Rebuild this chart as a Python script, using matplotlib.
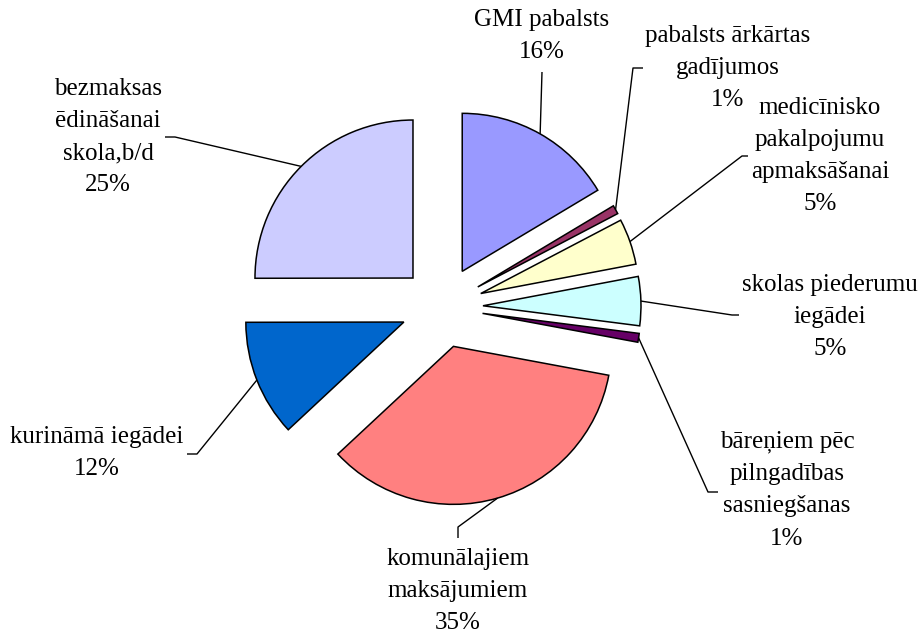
import matplotlib
matplotlib.use("Agg")
import matplotlib.pyplot as plt
import numpy as np

plt.rcParams["font.family"] = "serif"
plt.rcParams["font.serif"] = ["Liberation Serif", "Times New Roman", "DejaVu Serif"]

# slice data (clockwise from 12 o'clock)
names = [
    "GMI pabalsts",
    "pabalsts ārkārtas\ngadījumos",
    "medicīnisko\npakalpojumu\napmaksāšanai",
    "skolas piederumu\niegādei",
    "bāreņiem pēc\npilngadības\nsasniegšanas",
    "komunālajiem\nmaksājumiem",
    "kurināmā iegādei",
    "bezmaksas\nēdināšanai\nskola,b/d",
]
shares = [16.4, 0.9, 4.7, 5.0, 0.9, 35.1, 11.9, 25.0]
colors = ["#9999FF", "#993366", "#FFFFCC", "#CCFFFF",
          "#660066", "#FF8080", "#0066CC", "#CCCCFF"]

# layout, in pixels of the 919x633 picture (y down)
W, H = 919, 633
label_xy = [(542, 36), (728, 68), (820, 156), (830, 317),
            (787, 490), (458, 591), (97, 453), (108, 137)]
leader_pts = [
    [(542, 72)],
    [(633, 68), (643, 68)],
    [(742, 156), (748, 156)],
    [(732, 315), (739, 315)],
    [(708, 492), (718, 492)],
    [(458, 527), (458, 538)],
    [(197, 454), (187, 454)],
    [(175, 137), (165, 137)],
]


def px(x, y):
    return x, H - y


fig = plt.figure(figsize=(9.19, 6.33), dpi=100)
ax = fig.add_axes([0, 0, 1, 1])

wedges, _ = ax.pie(shares, colors=colors, startangle=90, counterclock=False,
                   radius=158, center=px(442, 307), explode=[41] * len(shares),
                   wedgeprops=dict(edgecolor="black", linewidth=1.1))

ax.set_aspect("auto")
ax.set_xlim(0, W)
ax.set_ylim(0, H)
ax.axis("off")

# leader lines from the middle of each arc, then the labels
total = sum(shares)
for w, name, v, (lx, ly), pts in zip(wedges, names, shares, label_xy, leader_pts):
    tm = np.deg2rad((w.theta1 + w.theta2) / 2)
    cx, cy = w.center
    sx = cx + w.r * np.cos(tm)
    sy = cy + w.r * np.sin(tm)
    xs = [sx] + [px(*p)[0] for p in pts]
    ys = [sy] + [px(*p)[1] for p in pts]
    ax.plot(xs, ys, color="black", linewidth=1.0, solid_capstyle="butt")
    ax.text(*px(lx, ly), f"{name}\n{v / total * 100:.0f}%", ha="center", va="center",
            fontsize=18, linespacing=1.6)

fig.savefig("out.png", dpi=100)
